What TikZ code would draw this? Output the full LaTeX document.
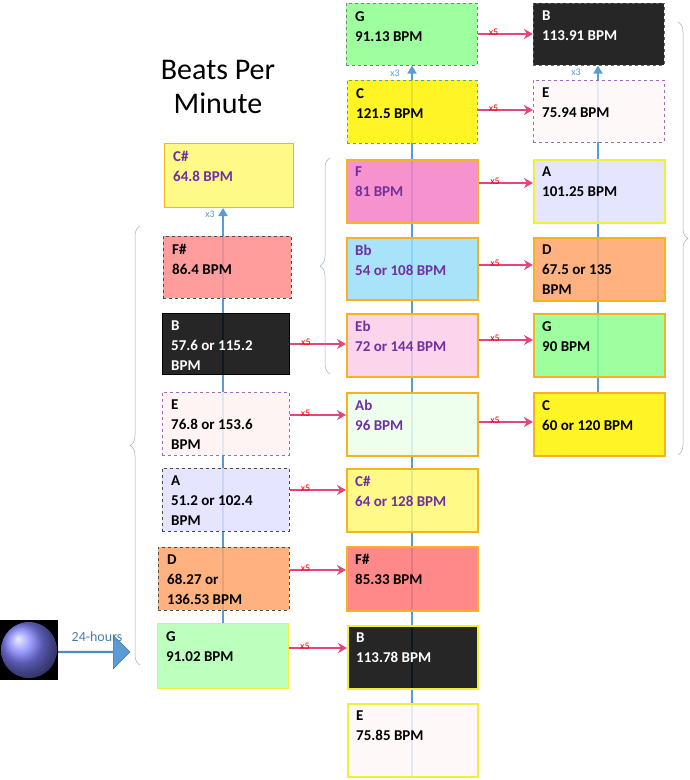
\documentclass[tikz,border=0pt]{standalone}
\usepackage{fontspec}
\setmainfont{Carlito}
\usetikzlibrary{backgrounds,decorations.pathreplacing,shapes.arrows,arrows.meta}
\definecolor{pk}{HTML}{E4457F}
\definecolor{bl}{HTML}{5B9BD5}
\definecolor{pur}{HTML}{7030A0}
\definecolor{org}{HTML}{F5B324}
\definecolor{yel}{HTML}{F0F03C}
\tikzset{
 box/.style={draw,line width=1pt,fill opacity=0.85,draw opacity=1,inner sep=0pt},
 dsh/.style={box,dashed,line width=0.6pt},
 thick/.style={box,line width=2.2pt,draw=org},
 pkarrow/.style={draw=pk,line width=2.6pt,-{Stealth[length=9pt,width=10pt]}},
 blarrow/.style={draw=bl,line width=2.2pt,-{Triangle[length=8pt,width=9pt]}},
 xf/.style={text=red,font=\fontsize{10}{10}\selectfont,inner sep=1pt},
 xt/.style={text=bl,font=\fontsize{10}{10}\selectfont,inner sep=1pt},
 brc/.style={draw=bl!40!gray!70,line width=0.5pt,decorate,decoration={brace,amplitude=10pt}},
}
\newcommand\bx[8]{%
 \node[#6,minimum width=#4pt,minimum height=#5pt,anchor=north west] (#1) at (#2,#3) {};
 \node[anchor=north west,text=#7,align=left,inner sep=0pt,font=\bfseries\fontsize{15}{20}\selectfont] (#1t) at ([xshift=9pt,yshift=-8pt]#1.north west) {#8};}
\begin{document}
\begin{tikzpicture}[x=1pt,y=-1pt]
\useasboundingbox (0,0) rectangle (690,780);
\node[font=\fontsize{30}{34}\selectfont,align=center] (title) at (218,87) {Beats Per\\Minute};
% column 1
\bx{a1}{164}{143}{129}{64}{box,draw=org,fill=yellow!55!white}{pur}{C\#\\64.8 BPM}
\bx{a2}{163}{236}{128}{62}{dsh,draw=black!70,fill=red!45!white}{black}{F\#\\86.4 BPM}
\bx{a3}{162}{313}{127}{61}{box,draw=black,fill=black}{white}{B\\57.6 or 115.2\\BPM}
\bx{a4}{162}{392}{127}{63}{dsh,draw=pur!70,fill=pink!20!white}{black}{E\\76.8 or 153.6\\BPM}
\bx{a5}{162}{468}{127}{63}{dsh,draw=black!70,fill=blue!12!white}{black}{A\\51.2 or 102.4\\BPM}
\bx{a6}{158}{547}{131}{63}{dsh,draw=black!70,fill=orange!45!pink}{black}{D\\68.27 or\\136.53 BPM}
\bx{a7}{157}{623}{131}{65}{box,draw=yel,fill=green!30!white}{black}{G\\91.02 BPM}
% column 2
\bx{b1}{346}{3}{131}{62}{dsh,draw=black!50,fill=green!45!white}{black}{G\\91.13 BPM}
\bx{b2}{347}{80}{130}{63}{dsh,draw=teal!70,fill=yellow}{black}{C\\121.5 BPM}
\bx{b3}{346}{159}{131}{63}{thick,fill=magenta!50!white}{pur}{F\\81 BPM}
\bx{b4}{346}{237}{131}{62}{thick,fill=cyan!40!white}{pur}{Bb\\54 or 108 BPM}
\bx{b5}{346}{313}{131}{63}{thick,fill=magenta!20!white}{pur}{Eb\\72 or 144 BPM}
\bx{b6}{346}{392}{131}{63}{thick,fill=green!8!white}{pur}{Ab\\96 BPM}
\bx{b7}{346}{468}{131}{63}{thick,fill=yellow!55!white}{pur}{C\#\\64 or 128 BPM}
\bx{b8}{346}{546}{131}{64}{thick,fill=red!55!white}{black}{F\#\\85.33 BPM}
\bx{b9}{347}{625}{130}{63}{box,draw=yel,line width=1.6pt,fill=black}{white}{B\\113.78 BPM}
\bx{b10}{347}{703}{130}{73}{box,draw=yel,line width=1.6pt,fill=pink!12!white}{black}{E\\75.85 BPM}
% column 3
\bx{c1}{533}{3}{131}{62}{dsh,draw=black!60,fill=black}{white}{B\\113.91 BPM}
\bx{c2}{533}{80}{131}{62}{dsh,draw=pur!70,fill=pink!12!white}{black}{E\\75.94 BPM}
\bx{c3}{533}{159}{131}{63}{box,draw=yel,line width=1.6pt,fill=blue!12!white}{black}{A\\101.25 BPM}
\bx{c4}{533}{237}{131}{63}{thick,fill=orange!45!pink}{black}{D\\67.5 or 135\\BPM}
\bx{c5}{533}{313}{131}{63}{thick,fill=green!45!white}{black}{G\\90 BPM}
\bx{c6}{533}{392}{131}{63}{thick,fill=yellow}{black}{C\\60 or 120 BPM}
% vertical lines
\begin{pgfonlayer}{background}
\draw[blarrow] (a7.north -| 223,0) -- (a1.south -| 223,0);
\draw[blarrow] (b10.south -| 412,0) -- (b1.south -| 412,0);
\draw[blarrow] (c6.north -| 598,0) -- (c1.south -| 598,0);
\end{pgfonlayer}
\node[xt] (x3a) at (210,214) {x3};
\node[xt] (x3b) at (395,73) {x3};
\node[xt] (x3c) at (576,72) {x3};
% pink arrows
\foreach \s/\t/\y in {a3/b5/344,a4/b6/415,a5/b7/490,a6/b8/570,a7/b9/648,b1/c1/34,b2/c2/110,b3/c3/183,b4/c4/265,b5/c5/340,b6/c6/422}{
 \draw[pkarrow] (\s.east |- 0,\y) -- (\t.west |- 0,\y);
 \node[xf,anchor=south west] at ([xshift=10pt,yshift=-3pt]\s.east |- 0,\y) {x5};
}
% braces
\coordinate (l1) at (140,665); \coordinate (l2) at (140,226);
\draw[brc] (l1) -- (l2);
\coordinate (m1) at (330,374); \coordinate (m2) at (330,158);
\draw[brc] (m1) -- (m2);
\coordinate (r1) at (678,22); \coordinate (r2) at (678,455);
\draw[brc] (r1) -- (r2);
% earth
\fill[black] (0,620) rectangle (58,680);
\shade[ball color=blue!50!white] (29,650) circle (28);
\node[single arrow,fill=bl,draw=bl!70!black,minimum height=72pt,minimum width=34pt,single arrow head extend=4pt,inner sep=0pt,anchor=west] (arr) at (58,652) {};
\node[text=bl!80!black,font=\fontsize{14}{14}\selectfont] (hrs) at (97,637) {24-hours};
\end{tikzpicture}
\end{document}
